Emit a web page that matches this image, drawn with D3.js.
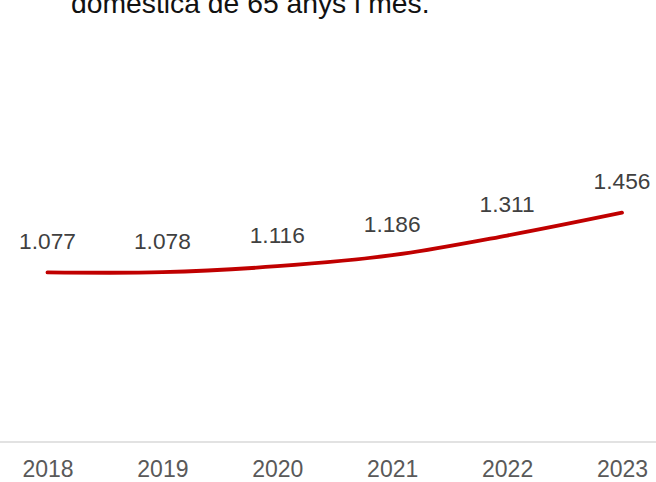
<!DOCTYPE html>
<html><head><meta charset="utf-8">
<script src="https://cdn.jsdelivr.net/npm/d3@7"></script>
<style>html,body{margin:0;padding:0;background:#fff;}svg{display:block;}</style>
</head><body>
<script>
const years = ["2018","2019","2020","2021","2022","2023"];
const values = [1.077, 1.078, 1.116, 1.186, 1.311, 1.456];
const titleText = "domèstica de 65 anys i més.";

const W = 656, H = 482;
const svg = d3.select("body").append("svg").attr("width", W).attr("height", H);
const font = "Liberation Sans, Arial, sans-serif";

svg.append("text").attr("x", 71).attr("y", 13).attr("font-family", font)
  .attr("font-size", 28.3).attr("fill", "#111").text(titleText);

const x = d3.scalePoint().domain(years).range([47.5, 622]);
const y = d3.scaleLinear().domain([0, 2]).range([442, 127]);

svg.append("line").attr("x1", 0).attr("x2", W).attr("y1", y(0)).attr("y2", y(0))
  .attr("stroke", "#d9d9d9").attr("stroke-width", 1.5);

const xAxis = d3.axisBottom(x).tickSize(0).tickPadding(0);
const gx = svg.append("g").attr("transform", `translate(0,${y(0)})`).call(xAxis);
gx.select(".domain").remove();
gx.selectAll("text").attr("font-family", font).attr("font-size", 23)
  .attr("fill", "#595959").attr("dy", null).attr("y", 34.5);

const data = years.map((yr, i) => ({yr, v: values[i]}));
const line = d3.line().x(d => x(d.yr)).y(d => y(d.v)).curve(d3.curveCatmullRom.alpha(0.5));
svg.append("path").datum(data).attr("d", line).attr("fill", "none")
  .attr("stroke", "#C00000").attr("stroke-width", 3.8).attr("stroke-linecap", "round");

svg.selectAll(".lbl").data(data).enter().append("text")
  .attr("x", d => x(d.yr)).attr("y", d => y(d.v) - 23.5)
  .attr("text-anchor", "middle").attr("font-family", font).attr("font-size", 22.7)
  .attr("fill", "#404040")
  .text(d => d3.format(".3f")(d.v));
</script>
</body></html>
